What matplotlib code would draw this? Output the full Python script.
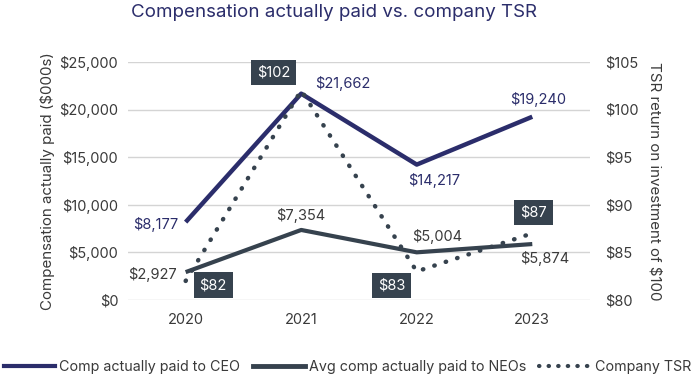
import numpy as np
import matplotlib.pyplot as plt
from matplotlib.lines import Line2D

plt.rcParams['font.family'] = ['Inter', 'DejaVu Sans']

years = ['2020', '2021', '2022', '2023']
ceo_cap = [8177, 21662, 14217, 19240]
neo_cap = [2927, 7354, 5004, 5874]
tsr = [82, 102, 83, 87]

navy = '#2b2d6b'
slate = '#36424e'
grey_txt = '#3a3a3a'

fig = plt.figure(figsize=(6.95, 3.75), dpi=100)
ax = fig.add_axes([0.184, 0.2, 0.665, 0.635])
ax2 = ax.twinx()

x = np.arange(len(years))

ax.plot(x, ceo_cap, color=navy, lw=3.2, solid_capstyle='butt', zorder=3)
ax.plot(x, neo_cap, color=slate, lw=3.0, solid_capstyle='butt', zorder=3)
ax2.plot(x, tsr, color=slate, lw=3.2, linestyle=(0, (0.1, 2.6)),
         dash_capstyle='round', zorder=3)

ax.set_xlim(-0.5, 3.5)
ax.set_ylim(0, 25000)
ax2.set_ylim(80, 105)
ax.set_yticks(np.arange(0, 25001, 5000))
ax.set_yticklabels([f'${v:,.0f}' for v in np.arange(0, 25001, 5000)])
ax2.set_yticks(np.arange(80, 106, 5))
ax2.set_yticklabels([f'${v}' for v in np.arange(80, 106, 5)])
ax.set_xticks(x)
ax.set_xticklabels(years)

for a in (ax, ax2):
    for s in a.spines.values():
        s.set_visible(False)
    a.tick_params(length=0, labelsize=10.5, labelcolor=grey_txt)
ax.tick_params(axis='y', pad=7)
ax.tick_params(axis='x', pad=9)
ax2.tick_params(axis='y', pad=11)
ax.grid(axis='y', color='#d4d4d4', lw=1)
ax.set_axisbelow(True)

ax.set_ylabel('Compensation actually paid ($000s)', fontsize=10.9, color=grey_txt, labelpad=3)
ax2.set_ylabel('TSR return on investment of $100', fontsize=10.9, color=grey_txt,
               rotation=270, labelpad=16)

fig.text(0.481, 0.966, 'Compensation actually paid vs. company TSR', ha='center',
         va='center', fontsize=13.5, color=navy)

# CEO labels
ceo_off = [(-5, -2, 'right', 'center'), (10, 7, 'left', 'center'),
           (-6, -6, 'left', 'top'), (4, 7, 'center', 'bottom')]
for i, (dx, dy, ha, va) in enumerate(ceo_off):
    ax.annotate(f'${ceo_cap[i]:,}', (x[i], ceo_cap[i]), xytext=(dx, dy),
                textcoords='offset points', ha=ha, va=va, fontsize=10.5, color=navy)

# NEO labels
neo_off = [(-6, -2, 'right', 'center'), (0, 5, 'center', 'bottom'),
           (15, 6, 'center', 'bottom'), (9, -5, 'center', 'top')]
for i, (dx, dy, ha, va) in enumerate(neo_off):
    ax.annotate(f'${neo_cap[i]:,}', (x[i], neo_cap[i]), xytext=(dx, dy),
                textcoords='offset points', ha=ha, va=va, fontsize=10.5, color=grey_txt)

# TSR boxes
tsr_off = [(10, 2, 'left', 'top'), (-8, 8, 'right', 'bottom'),
           (-8, -5, 'right', 'top'), (1, 10, 'center', 'bottom')]
for i, (dx, dy, ha, va) in enumerate(tsr_off):
    ax2.annotate(f'${tsr[i]}', (x[i], tsr[i]), xytext=(dx, dy),
                 textcoords='offset points', ha=ha, va=va, fontsize=10.5, color='white',
                 bbox=dict(boxstyle='square,pad=0.4', fc=slate, ec='none'), zorder=5)

# legend
handles = [Line2D([], [], color=navy, lw=3),
           Line2D([], [], color=slate, lw=3.5),
           Line2D([], [], color=slate, lw=3, linestyle=(0, (0.1, 2.2)), dash_capstyle='round')]
fig.legend(handles, ['Comp actually paid to CEO', 'Avg comp actually paid to NEOs', 'Company TSR'],
           loc='center', bbox_to_anchor=(0.5, 0.022), ncol=3, frameon=False,
           fontsize=10.3, handlelength=3.6, handletextpad=0.3, columnspacing=0.9,
           labelcolor=grey_txt, borderpad=0)

fig.savefig('out.png', dpi=100)
